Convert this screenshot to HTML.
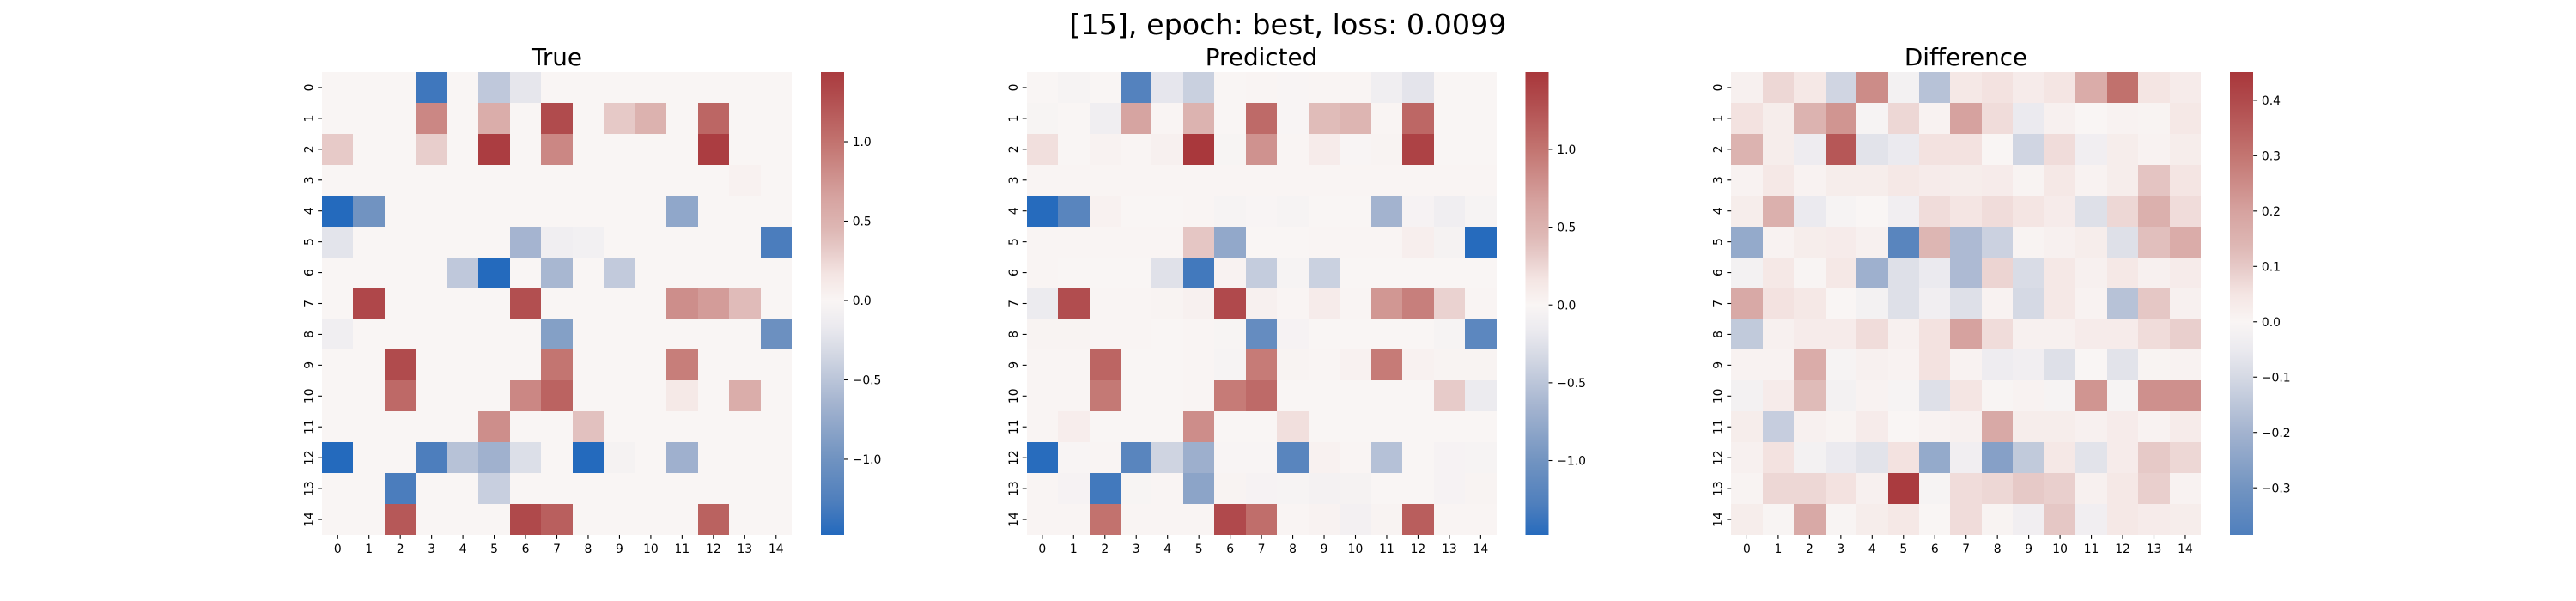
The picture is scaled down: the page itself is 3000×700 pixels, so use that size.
<!DOCTYPE html>
<html>
<head>
<meta charset="utf-8">
<title>Heatmaps</title>
<style>
html,body{margin:0;padding:0;background:#fff;}
#chart{display:block;width:3000px;height:700px;}
text{font-family:"DejaVu Sans","Liberation Sans",sans-serif;fill:#000;}
</style>
</head>
<body>
<svg id="chart" xmlns="http://www.w3.org/2000/svg" width="3000" height="700" viewBox="0 0 3000 700">
  <rect x="0" y="0" width="3000" height="700" fill="#ffffff"/>
  <text x="1500" y="40" text-anchor="middle" font-size="33.33">[15], epoch: best, loss: 0.0099</text>
  <text x="648.5" y="76" text-anchor="middle" font-size="27.8">True</text>
  <text x="1469" y="76" text-anchor="middle" font-size="27.8">Predicted</text>
  <text x="2289.5" y="76" text-anchor="middle" font-size="27.8">Difference</text>
  <g id="panels"></g>
</svg>
<script>
const categories = [0,1,2,3,4,5,6,7,8,9,10,11,12,13,14];

const trueValues = [
[0,0,0,-1.34,0,-.47,-.2,0,0,0,0,0,0,0,0],
[0,0,0,.85,0,.55,0,1.3,0,.33,.5,0,1.1,0,0],
[.32,0,0,.3,0,1.42,0,.85,0,0,0,0,1.42,0,0],
[0,0,0,0,0,0,0,0,0,0,0,0,0,.04,0],
[-1.47,-.99,0,0,0,0,0,0,0,0,0,-.78,0,0,0],
[-.22,0,0,0,0,0,-.64,-.1,-.08,0,0,0,0,0,-1.28],
[0,0,0,0,-.47,-1.47,0,-.62,0,-.45,0,0,0,0,0],
[0,1.33,0,0,0,0,1.27,0,0,0,0,.8,.7,.42,0],
[-.1,0,0,0,0,0,0,-.86,0,0,0,0,0,0,-1.03],
[0,0,1.3,0,0,0,0,.98,0,0,0,.92,0,0,0],
[0,0,1.07,0,0,0,.85,1.12,0,0,0,.12,0,.55,0],
[0,0,0,0,0,.8,0,0,.38,0,0,0,0,0,0],
[-1.47,0,0,-1.27,-.52,-.67,-.27,0,-1.47,-.05,0,-.68,0,0,0],
[0,0,-1.28,0,0,-.41,0,0,0,0,0,0,0,0,0],
[0,0,1.2,0,0,0,1.32,1.15,0,0,0,0,1.13,0,0]
];

const predictedValues = [
[0,-.03,0,-1.24,-.2,-.41,0,.01,-.01,.01,.01,-.1,-.22,0,0],
[-.02,0,-.1,.65,.01,.5,0,1.08,-.01,.42,.48,.01,1.1,0,0],
[.2,0,.03,.01,.05,1.49,-.02,.78,.01,.1,-.01,.02,1.4,0,0],
[.01,.01,.01,.01,.01,.01,.01,.01,.01,.01,.01,.01,.01,.01,.01],
[-1.48,-1.2,.04,0,0,.01,-.03,-.01,-.03,0,0,-.66,-.04,-.1,-.03],
[.01,.01,.01,.01,.01,.35,-.78,0,0,.01,.01,.01,.07,-.05,-1.48],
[.01,0,0,0,-.25,-1.34,.03,-.44,-.03,-.4,0,0,0,0,0],
[-.15,1.3,.01,.01,.02,.05,1.33,.05,.01,.1,.01,.75,.92,.28,.01],
[.02,.02,.01,.01,0,.01,-.02,-1.1,-.04,0,0,0,0,-.03,-1.17],
[.01,.01,1.12,0,0,.01,-.03,.95,.02,.01,.04,.95,.04,.02,.02],
[.01,.01,.97,0,0,.01,.95,1.08,0,0,0,0,0,.32,-.15],
[.01,.08,0,0,0,.82,0,0,.2,0,0,0,0,0,0],
[-1.47,-.01,.01,-1.2,-.37,-.7,-.01,-.01,-1.2,.04,.01,-.54,0,-.04,-.03],
[.01,-.04,-1.34,-.02,.01,-.82,.02,-.04,-.03,-.06,-.05,0,0,-.04,.02],
[.01,.01,1.02,.01,.01,.01,1.33,1.05,.01,.03,-.07,.02,1.17,.01,.01]
];

const differenceValues = [
[.015,.075,.04,-.11,.25,-.02,-.16,.04,.055,.03,.05,.17,.31,.05,.03],
[.055,.025,.15,.23,-.01,.075,.01,.2,.065,-.05,.015,0,.008,.005,.04],
[.15,.025,-.04,.37,-.07,-.05,.055,.055,0,-.11,.065,-.03,.025,.01,.025],
[.01,.04,.01,.025,.025,.04,.03,.025,.03,.005,.04,.01,.025,.11,.05],
[.025,.16,-.05,-.01,0,-.03,.065,.05,.065,.05,.03,-.08,.075,.16,.065],
[-.23,.01,.025,.03,.015,-.36,.14,-.18,-.12,.005,.015,.025,-.08,.12,.17],
[-.02,.04,-.005,.04,-.21,-.08,-.05,-.18,.08,-.09,.04,.015,.04,.015,.03],
[.18,.055,.04,0,-.02,-.08,-.03,-.08,.01,-.1,.04,.01,-.16,.105,.015],
[-.14,.015,.03,.03,.065,.015,.055,.2,.065,.015,.015,.03,.03,.065,.09],
[.01,.01,.17,-.01,.015,.01,.055,.01,-.04,-.03,-.08,0,-.07,.005,.01],
[-.02,.03,.13,-.02,.01,-.01,-.08,.05,-.005,.01,-.01,.23,-.01,.24,.24],
[.025,-.13,.015,.005,.03,0,.01,.015,.18,.025,.025,.015,.03,.01,.03],
[.015,.055,-.02,-.05,-.07,.055,-.23,-.03,-.26,-.14,.04,-.07,.03,.1,.075],
[.005,.075,.075,.055,.015,.44,-.01,.065,.075,.1,.09,.015,.04,.09,.01],
[.025,-.005,.18,-.005,.025,.04,0,.065,.005,-.03,.105,-.03,.04,.03,.025]
];

const trueTicks = [-1.0,-0.5,0.0,0.5,1.0];
const predictedTicks = [-1.0,-0.5,0.0,0.5,1.0];
const differenceTicks = [-0.3,-0.2,-0.1,0.0,0.1,0.2,0.3,0.4];

const trueRange = [-1.476,1.438];
const predictedRange = [-1.477,1.496];
const differenceRange = [-0.385,0.451];

const NS = 'http://www.w3.org/2000/svg';
const root = document.getElementById('panels');
const PLOT_TOP = 84, PLOT_BOTTOM = 623, PLOT_W = 547, BAR_OFFSET = 581, BAR_W = 27;
const FONT = 13.89, TICK = 4.86;

const lutPos = [0,.073,.167,.279,.39,.445,.5,.555,.611,.65,.72,.833,.943,1];
const lutCol = [[35,105,189],[79,127,189],[114,148,193],[163,179,207],[213,217,228],[235,234,239],[249,245,244],[244,229,227],[230,201,199],[222,184,181],[214,163,160],[195,117,113],[176,74,76],[169,55,59]];

function vlag(t) {
  t = Math.max(0, Math.min(1, t));
  let i = 0;
  while (i < lutPos.length - 2 && t > lutPos[i + 1]) i++;
  const f = (t - lutPos[i]) / (lutPos[i + 1] - lutPos[i]);
  const c = lutCol[i].map((a, k) => Math.round(a + (lutCol[i + 1][k] - a) * f));
  return 'rgb(' + c.join(',') + ')';
}

function make(tag, attrs, parent) {
  const el = document.createElementNS(NS, tag);
  for (const k in attrs) el.setAttribute(k, attrs[k]);
  parent.appendChild(el);
  return el;
}

function drawPanel(name, left, values, range, ticks) {
  const vrange = Math.max(Math.abs(range[0]), Math.abs(range[1]));
  const colorOf = v => vlag((v + vrange) / (2 * vrange));
  const cellW = PLOT_W / categories.length;
  const cellH = (PLOT_BOTTOM - PLOT_TOP) / values.length;
  const xAt = i => left + i * cellW;
  const yAt = i => PLOT_TOP + i * cellH;
  const barY = v => PLOT_BOTTOM - (v - range[0]) / (range[1] - range[0]) * (PLOT_BOTTOM - PLOT_TOP);

  const g = make('g', {}, root);
  
  

  values.forEach((row, r) => {
    row.forEach((v, c) => {
      const x0 = Math.round(xAt(c)), x1 = Math.round(xAt(c + 1));
      const y0 = Math.round(yAt(r)), y1 = Math.round(yAt(r + 1));
      const rect = make('rect', {x: x0, y: y0, width: x1 - x0, height: y1 - y0, fill: colorOf(v), 'shape-rendering': 'crispEdges'}, g);
      
      
    });
  });

  categories.forEach((cat, i) => {
    const cx = xAt(i + 0.5);
    const xt = make('line', {x1: cx, x2: cx, y1: PLOT_BOTTOM, y2: PLOT_BOTTOM + TICK, stroke: '#000', 'stroke-width': 1.1}, g);
    
    
    const xl = make('text', {x: cx, y: PLOT_BOTTOM + 21, 'text-anchor': 'middle', 'font-size': FONT}, g);
    xl.textContent = cat;
    
    

    const cy = yAt(i + 0.5);
    const yt = make('line', {x1: left - TICK, x2: left, y1: cy, y2: cy, stroke: '#000', 'stroke-width': 1.1}, g);
    
    
    const lx = left - 10.5;
    const yl = make('text', {x: lx, y: cy, 'text-anchor': 'middle', 'font-size': FONT, transform: 'rotate(-90 ' + lx + ' ' + cy + ')'}, g);
    yl.textContent = cat;
    
    
  });

  const barX = left + BAR_OFFSET;
  const barGroup = make('g', {}, g);
  
  
  for (let y = PLOT_TOP; y < PLOT_BOTTOM; y++) {
    const v = range[1] - (y + 0.5 - PLOT_TOP) / (PLOT_BOTTOM - PLOT_TOP) * (range[1] - range[0]);
    const s = make('rect', {x: barX, y: y, width: BAR_W, height: 1, fill: colorOf(v), 'shape-rendering': 'crispEdges'}, barGroup);
    
    
  }
  ticks.forEach(v => {
    const y = barY(v);
    const t = make('line', {x1: barX + BAR_W, x2: barX + BAR_W + TICK, y1: y, y2: y, stroke: '#000', 'stroke-width': 1.1}, barGroup);
    
    
    const l = make('text', {x: barX + BAR_W + 9.7, y: y + 5.1, 'font-size': FONT}, barGroup);
    l.textContent = (v < 0 ? '\u2212' : '') + Math.abs(v).toFixed(1);
    
    
  });
}

drawPanel('true', 375, trueValues, trueRange, trueTicks);
drawPanel('predicted', 1195.6, predictedValues, predictedRange, predictedTicks);
drawPanel('difference', 2016.2, differenceValues, differenceRange, differenceTicks);
</script>
</body>
</html>
